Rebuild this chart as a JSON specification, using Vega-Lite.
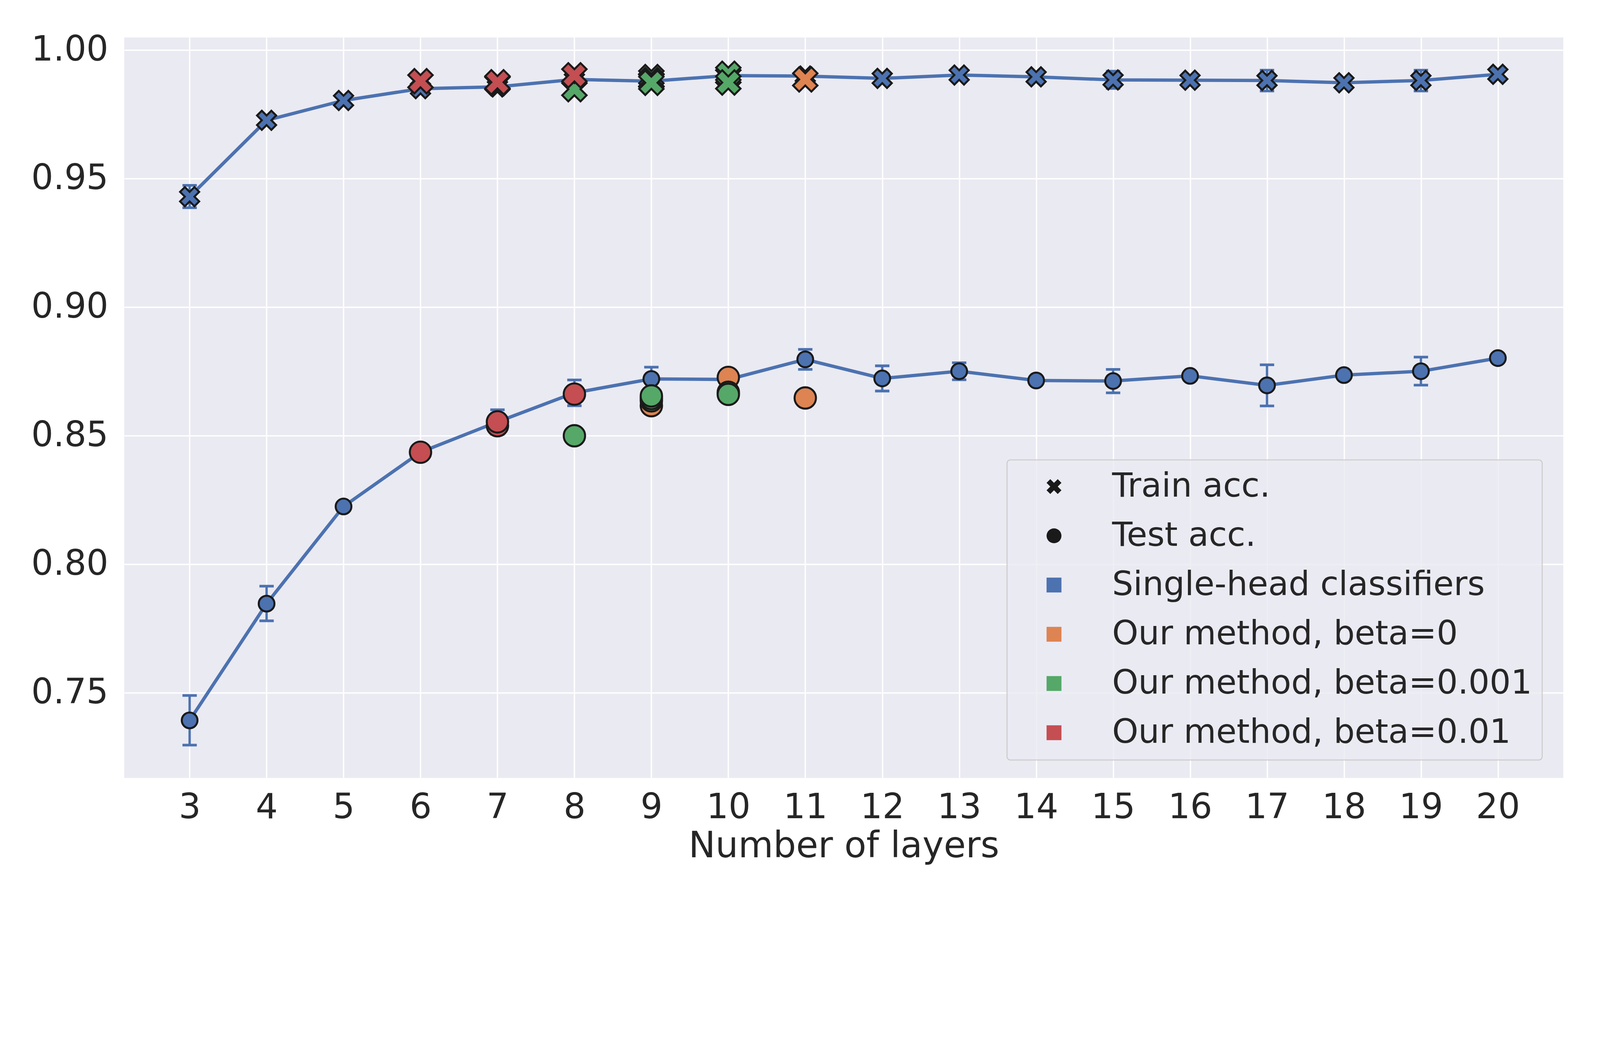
{
  "$schema": "https://vega.github.io/schema/vega-lite/v6.json",
  "width": 3684,
  "height": 1895,
  "autosize": {"type": "none"},
  "padding": {"left": 318, "top": 96, "right": 94, "bottom": 313},
  "background": "white",
  "config": {
    "font": "DejaVu Sans",
    "view": {"fill": "#EAEAF2", "stroke": null},
    "axis": {
      "labelFontSize": 88.7, "labelColor": "#262626", "labelFont": "DejaVu Sans",
      "ticks": false, "tickSize": 0, "domain": false, "grid": true,
      "gridColor": "#ffffff", "gridWidth": 3.4, "gridOpacity": 1,
      "titleFontSize": 92, "titleFontWeight": "normal", "titleColor": "#262626",
      "titleFont": "DejaVu Sans", "labelOverlap": false, "labelLimit": 1000
    },
    "axisX": {"labelPadding": 32.4, "titlePadding": 9.4},
    "axisY": {"labelPadding": 41}
  },
  "datasets": {
    "single": [
      {"layers": 3, "metric": "Train acc.", "acc": 0.9429, "lo": 0.9386, "hi": 0.9473},
      {"layers": 4, "metric": "Train acc.", "acc": 0.9726},
      {"layers": 5, "metric": "Train acc.", "acc": 0.9803},
      {"layers": 6, "metric": "Train acc.", "acc": 0.9849},
      {"layers": 7, "metric": "Train acc.", "acc": 0.9856},
      {"layers": 8, "metric": "Train acc.", "acc": 0.9885},
      {"layers": 9, "metric": "Train acc.", "acc": 0.9878},
      {"layers": 10, "metric": "Train acc.", "acc": 0.9900},
      {"layers": 11, "metric": "Train acc.", "acc": 0.9898},
      {"layers": 12, "metric": "Train acc.", "acc": 0.9889},
      {"layers": 13, "metric": "Train acc.", "acc": 0.9902},
      {"layers": 14, "metric": "Train acc.", "acc": 0.9895},
      {"layers": 15, "metric": "Train acc.", "acc": 0.9883, "lo": 0.9850, "hi": 0.9917},
      {"layers": 16, "metric": "Train acc.", "acc": 0.9882},
      {"layers": 17, "metric": "Train acc.", "acc": 0.9881, "lo": 0.9840, "hi": 0.9921},
      {"layers": 18, "metric": "Train acc.", "acc": 0.9872},
      {"layers": 19, "metric": "Train acc.", "acc": 0.9881, "lo": 0.9840, "hi": 0.9921},
      {"layers": 20, "metric": "Train acc.", "acc": 0.9905},
      {"layers": 3, "metric": "Test acc.", "acc": 0.7392, "lo": 0.7296, "hi": 0.7489},
      {"layers": 4, "metric": "Test acc.", "acc": 0.7846, "lo": 0.7779, "hi": 0.7914},
      {"layers": 5, "metric": "Test acc.", "acc": 0.8224},
      {"layers": 6, "metric": "Test acc.", "acc": 0.8435},
      {"layers": 7, "metric": "Test acc.", "acc": 0.8553, "lo": 0.8505, "hi": 0.8600},
      {"layers": 8, "metric": "Test acc.", "acc": 0.8666, "lo": 0.8616, "hi": 0.8716},
      {"layers": 9, "metric": "Test acc.", "acc": 0.8720, "lo": 0.8674, "hi": 0.8766},
      {"layers": 10, "metric": "Test acc.", "acc": 0.8718},
      {"layers": 11, "metric": "Test acc.", "acc": 0.8796, "lo": 0.8757, "hi": 0.8835},
      {"layers": 12, "metric": "Test acc.", "acc": 0.8722, "lo": 0.8673, "hi": 0.8771},
      {"layers": 13, "metric": "Test acc.", "acc": 0.8750, "lo": 0.8717, "hi": 0.8783},
      {"layers": 14, "metric": "Test acc.", "acc": 0.8714},
      {"layers": 15, "metric": "Test acc.", "acc": 0.8712, "lo": 0.8666, "hi": 0.8757},
      {"layers": 16, "metric": "Test acc.", "acc": 0.8732},
      {"layers": 17, "metric": "Test acc.", "acc": 0.8695, "lo": 0.8615, "hi": 0.8775},
      {"layers": 18, "metric": "Test acc.", "acc": 0.8735},
      {"layers": 19, "metric": "Test acc.", "acc": 0.8750, "lo": 0.8696, "hi": 0.8805},
      {"layers": 20, "metric": "Test acc.", "acc": 0.8801}
    ],
    "ours": [
      {"layers": 9, "metric": "Train acc.", "method": "Our method, beta=0", "acc": 0.9880},
      {"layers": 10, "metric": "Train acc.", "method": "Our method, beta=0", "acc": 0.9897},
      {"layers": 11, "metric": "Train acc.", "method": "Our method, beta=0", "acc": 0.9885},
      {"layers": 9, "metric": "Test acc.", "method": "Our method, beta=0", "acc": 0.8616},
      {"layers": 10, "metric": "Test acc.", "method": "Our method, beta=0", "acc": 0.8726},
      {"layers": 11, "metric": "Test acc.", "method": "Our method, beta=0", "acc": 0.8646},
      {"layers": 8, "metric": "Train acc.", "method": "Our method, beta=0.001", "acc": 0.9847},
      {"layers": 9, "metric": "Train acc.", "method": "Our method, beta=0.001", "acc": 0.9894},
      {"layers": 9, "metric": "Train acc.", "method": "Our method, beta=0.001", "acc": 0.9882},
      {"layers": 9, "metric": "Train acc.", "method": "Our method, beta=0.001", "acc": 0.9872},
      {"layers": 10, "metric": "Train acc.", "method": "Our method, beta=0.001", "acc": 0.9907},
      {"layers": 10, "metric": "Train acc.", "method": "Our method, beta=0.001", "acc": 0.9873},
      {"layers": 8, "metric": "Test acc.", "method": "Our method, beta=0.001", "acc": 0.8499},
      {"layers": 9, "metric": "Test acc.", "method": "Our method, beta=0.001", "acc": 0.8635},
      {"layers": 9, "metric": "Test acc.", "method": "Our method, beta=0.001", "acc": 0.8644},
      {"layers": 9, "metric": "Test acc.", "method": "Our method, beta=0.001", "acc": 0.8654},
      {"layers": 10, "metric": "Test acc.", "method": "Our method, beta=0.001", "acc": 0.8668},
      {"layers": 10, "metric": "Test acc.", "method": "Our method, beta=0.001", "acc": 0.8660},
      {"layers": 6, "metric": "Train acc.", "method": "Our method, beta=0.01", "acc": 0.9878},
      {"layers": 7, "metric": "Train acc.", "method": "Our method, beta=0.01", "acc": 0.9870},
      {"layers": 7, "metric": "Train acc.", "method": "Our method, beta=0.01", "acc": 0.9874},
      {"layers": 8, "metric": "Train acc.", "method": "Our method, beta=0.01", "acc": 0.9901},
      {"layers": 6, "metric": "Test acc.", "method": "Our method, beta=0.01", "acc": 0.8435},
      {"layers": 7, "metric": "Test acc.", "method": "Our method, beta=0.01", "acc": 0.8538},
      {"layers": 7, "metric": "Test acc.", "method": "Our method, beta=0.01", "acc": 0.8553},
      {"layers": 8, "metric": "Test acc.", "method": "Our method, beta=0.01", "acc": 0.8661}
    ],
    "legend": [
      {"key": "Train acc."},
      {"key": "Test acc."},
      {"key": "Single-head classifiers"},
      {"key": "Our method, beta=0"},
      {"key": "Our method, beta=0.001"},
      {"key": "Our method, beta=0.01"}
    ]
  },
  "encoding": {
    "x": {
      "field": "layers", "type": "quantitative",
      "scale": {"domain": [2.15, 20.85], "nice": false, "zero": false},
      "axis": {"values": [3,4,5,6,7,8,9,10,11,12,13,14,15,16,17,18,19,20], "format": "d", "title": "Number of layers"}
    }
  },
  "layer": [
    {
      "data": {"name": "single"},
      "mark": {"type": "line", "color": "#4C72B0", "strokeWidth": 8.5},
      "encoding": {
        "y": {"field": "acc", "type": "quantitative",
              "scale": {"domain": [0.7168, 1.0048], "nice": false, "zero": false},
              "axis": {"values": [0.75, 0.8, 0.85, 0.9, 0.95, 1.0], "format": ".2f", "title": null}},
        "detail": {"field": "metric", "type": "nominal"}
      }
    },
    {
      "data": {"name": "single"},
      "transform": [{"filter": "isValid(datum.lo)"}],
      "mark": {"type": "rule", "color": "#4C72B0", "strokeWidth": 6},
      "encoding": {
        "y": {"field": "lo", "type": "quantitative",
              "axis": {"values": [0.75, 0.8, 0.85, 0.9, 0.95, 1.0], "format": ".2f", "title": null}},
        "y2": {"field": "hi"}
      }
    },
    {
      "data": {"name": "single"},
      "transform": [{"filter": "isValid(datum.lo)"}],
      "mark": {"type": "tick", "orient": "horizontal", "color": "#4C72B0", "thickness": 6.8, "size": 36.7, "opacity": 1},
      "encoding": {
        "y": {"field": "lo", "type": "quantitative",
              "axis": {"values": [0.75, 0.8, 0.85, 0.9, 0.95, 1.0], "format": ".2f", "title": null}}
      }
    },
    {
      "data": {"name": "single"},
      "transform": [{"filter": "isValid(datum.hi)"}],
      "mark": {"type": "tick", "orient": "horizontal", "color": "#4C72B0", "thickness": 6.8, "size": 36.7, "opacity": 1},
      "encoding": {
        "y": {"field": "hi", "type": "quantitative",
              "axis": {"values": [0.75, 0.8, 0.85, 0.9, 0.95, 1.0], "format": ".2f", "title": null}}
      }
    },
    {
      "data": {"name": "single"},
      "mark": {"type": "point", "filled": true, "fill": "#4C72B0", "stroke": "#1a1a1a", "strokeWidth": 5.1, "opacity": 1},
      "encoding": {
        "y": {"field": "acc", "type": "quantitative",
              "axis": {"values": [0.75, 0.8, 0.85, 0.9, 0.95, 1.0], "format": ".2f", "title": null}},
        "shape": {"field": "metric", "type": "nominal",
                  "scale": {"domain": ["Train acc.", "Test acc."], "range": ["M-0.5,-1L0,-0.5L0.5,-1L1,-0.5L0.5,0L1,0.5L0.5,1L0,0.5L-0.5,1L-1,0.5L-0.5,0L-1,-0.5Z", "circle"]},
                  "legend": null},
        "size": {"field": "metric", "type": "nominal",
                 "scale": {"domain": ["Train acc.", "Test acc."], "range": [2400, 1620]},
                 "legend": null}
      }
    },
    {
      "data": {"name": "ours"},
      "mark": {"type": "point", "filled": true, "stroke": "#1a1a1a", "strokeWidth": 5.1, "opacity": 1},
      "encoding": {
        "y": {"field": "acc", "type": "quantitative",
              "axis": {"values": [0.75, 0.8, 0.85, 0.9, 0.95, 1.0], "format": ".2f", "title": null}},
        "fill": {"field": "method", "type": "nominal",
                 "scale": {"domain": ["Our method, beta=0", "Our method, beta=0.001", "Our method, beta=0.01"], "range": ["#DD8452", "#55A868", "#C44E52"]},
                 "legend": null},
        "shape": {"field": "metric", "type": "nominal",
                  "scale": {"domain": ["Train acc.", "Test acc."], "range": ["M-0.5,-1L0,-0.5L0.5,-1L1,-0.5L0.5,0L1,0.5L0.5,1L0,0.5L-0.5,1L-1,0.5L-0.5,0L-1,-0.5Z", "circle"]},
                  "legend": null},
        "size": {"field": "metric", "type": "nominal",
                 "scale": {"domain": ["Train acc.", "Test acc."], "range": [3900, 3000]},
                 "legend": null}
      }
    },
    {
      "data": {"name": "legend"},
      "mark": {"type": "point", "filled": true, "opacity": 1},
      "encoding": {
        "fill": {"field": "key", "type": "nominal",
                 "scale": {"domain": ["Train acc.", "Test acc.", "Single-head classifiers", "Our method, beta=0", "Our method, beta=0.001", "Our method, beta=0.01"],
                           "range": ["#1a1a1a", "#1a1a1a", "#4C72B0", "#DD8452", "#55A868", "#C44E52"]},
                 "legend": {"title": null, "orient": "none", "legendX": 2260, "legendY": 1081,
                            "labelFontSize": 85.3, "labelColor": "#262626", "labelFont": "DejaVu Sans",
                            "symbolSize": 1450, "symbolStrokeWidth": 0, "symbolOpacity": 1,
                            "padding": 25.6, "rowPadding": 40, "labelOffset": 106, "symbolOffset": 52,
                            "fillColor": "rgba(234,234,242,0.8)", "strokeColor": "#cccccc",
                            "cornerRadius": 8.5, "labelLimit": 3000,
                            "encode": {"legend": {"update": {"strokeWidth": {"value": 2.6}}}}}},
        "shape": {"field": "key", "type": "nominal",
                  "scale": {"domain": ["Train acc.", "Test acc.", "Single-head classifiers", "Our method, beta=0", "Our method, beta=0.001", "Our method, beta=0.01"],
                            "range": ["M-0.5,-1L0,-0.5L0.5,-1L1,-0.5L0.5,0L1,0.5L0.5,1L0,0.5L-0.5,1L-1,0.5L-0.5,0L-1,-0.5Z", "circle", "square", "square", "square", "square"]},
                  "legend": {"title": null, "orient": "none", "legendX": 2260, "legendY": 1081,
                            "labelFontSize": 85.3, "labelColor": "#262626", "labelFont": "DejaVu Sans",
                            "symbolSize": 1450, "symbolStrokeWidth": 0, "symbolOpacity": 1,
                            "padding": 25.6, "rowPadding": 40, "labelOffset": 106, "symbolOffset": 52,
                            "fillColor": "rgba(234,234,242,0.8)", "strokeColor": "#cccccc",
                            "cornerRadius": 8.5, "labelLimit": 3000,
                            "encode": {"legend": {"update": {"strokeWidth": {"value": 2.6}}}}}}
      }
    }
  ],
  "resolve": {"scale": {"fill": "independent", "shape": "independent", "size": "independent"}}
}
